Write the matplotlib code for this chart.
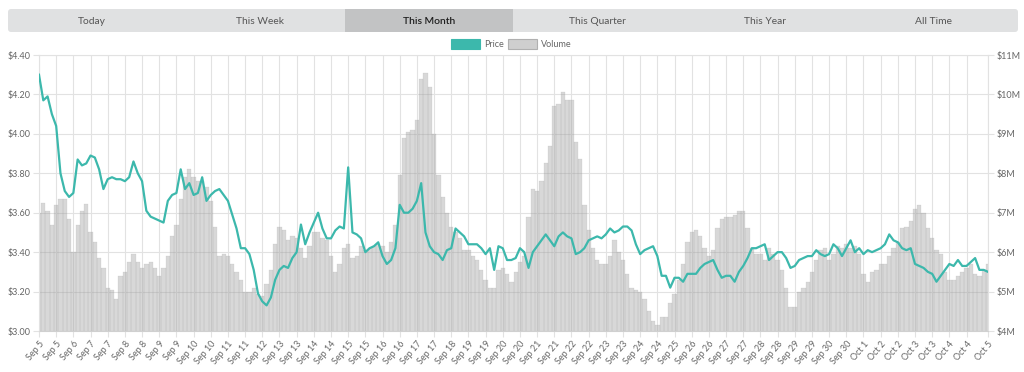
import matplotlib
matplotlib.use("Agg")
import matplotlib.pyplot as plt
from matplotlib.patches import FancyBboxPatch, Rectangle
import numpy as np

plt.rcParams['font.family'] = ['Lato', 'DejaVu Sans']

tabs = ["Today", "This Week", "This Month", "This Quarter", "This Year", "All Time"]
active_tab = "This Month"

day_labels = ["Sep 5", "Sep 5", "Sep 6", "Sep 7", "Sep 7", "Sep 8", "Sep 8", "Sep 9", "Sep 9",
              "Sep 10", "Sep 10", "Sep 11", "Sep 11", "Sep 12", "Sep 13", "Sep 13", "Sep 14",
              "Sep 14", "Sep 15", "Sep 15", "Sep 16", "Sep 16", "Sep 17", "Sep 17", "Sep 18",
              "Sep 19", "Sep 19", "Sep 20", "Sep 20", "Sep 21", "Sep 21", "Sep 22", "Sep 22",
              "Sep 23", "Sep 23", "Sep 24", "Sep 24", "Sep 25", "Sep 26", "Sep 26", "Sep 27",
              "Sep 27", "Sep 28", "Sep 28", "Sep 29", "Sep 29", "Sep 30", "Sep 30", "Oct 1",
              "Oct 2", "Oct 2", "Oct 3", "Oct 3", "Oct 4", "Oct 4", "Oct 5"]

# sampled 4 times per tick interval (~3 h)
price = [
    4.30, 4.17, 4.19, 4.10, 4.04, 3.80, 3.71, 3.68,
    3.70, 3.87, 3.84, 3.85, 3.89, 3.88, 3.82, 3.72,
    3.77, 3.78, 3.77, 3.77, 3.76, 3.78, 3.86, 3.80,
    3.76, 3.61, 3.58, 3.57, 3.56, 3.55, 3.66, 3.69,
    3.70, 3.82, 3.72, 3.75, 3.69, 3.70, 3.78, 3.66,
    3.69, 3.71, 3.72, 3.69, 3.66, 3.59, 3.52, 3.42,
    3.42, 3.39, 3.31, 3.19, 3.15, 3.13, 3.17, 3.26,
    3.31, 3.33, 3.32, 3.37, 3.40, 3.54, 3.44, 3.50,
    3.55, 3.60, 3.52, 3.47, 3.47, 3.51, 3.53, 3.52,
    3.83, 3.50, 3.49, 3.47, 3.40, 3.42, 3.43, 3.45,
    3.38, 3.34, 3.36, 3.42, 3.64, 3.60, 3.60, 3.62,
    3.66, 3.75, 3.50, 3.43, 3.40, 3.39, 3.36, 3.41,
    3.42, 3.52, 3.50, 3.48, 3.44, 3.44, 3.44, 3.42,
    3.39, 3.42, 3.31, 3.43, 3.42, 3.36, 3.36, 3.37,
    3.42, 3.40, 3.32, 3.40, 3.43, 3.46, 3.49, 3.46,
    3.43, 3.48, 3.50, 3.48, 3.47, 3.39, 3.40, 3.42,
    3.46, 3.47, 3.48, 3.47, 3.49, 3.52, 3.50, 3.51,
    3.53, 3.53, 3.51, 3.44, 3.39, 3.41, 3.42, 3.43,
    3.38, 3.28, 3.28, 3.22, 3.27, 3.27, 3.25, 3.29,
    3.29, 3.29, 3.32, 3.34, 3.35, 3.36, 3.31, 3.27,
    3.28, 3.28, 3.25, 3.30, 3.33, 3.37, 3.42, 3.42,
    3.43, 3.44, 3.36, 3.38, 3.40, 3.40, 3.37, 3.32,
    3.33, 3.36, 3.37, 3.38, 3.38, 3.41, 3.39, 3.38,
    3.39, 3.44, 3.42, 3.38, 3.42, 3.46, 3.40, 3.42,
    3.39, 3.41, 3.40, 3.41, 3.42, 3.44, 3.49, 3.46,
    3.45, 3.42, 3.41, 3.42, 3.34, 3.33, 3.32, 3.30,
    3.29, 3.25, 3.28, 3.31, 3.34, 3.33, 3.36, 3.33,
    3.33, 3.35, 3.37, 3.31, 3.31, 3.30,
]

# volume in millions of dollars
volume = [
    7.0, 7.25, 7.05, 6.7, 7.2, 7.35, 7.35, 6.85,
    6.0, 6.7, 7.05, 7.22, 6.5, 6.25, 5.85, 5.6,
    5.1, 5.05, 4.8, 5.4, 5.5, 5.75, 5.95, 5.75,
    5.6, 5.7, 5.75, 5.6, 5.4, 5.6, 5.9, 6.4,
    6.7, 7.35, 7.9, 8.1, 7.9, 7.8, 7.8, 7.65,
    7.3, 6.65, 5.9, 5.95, 5.9, 5.7, 5.5, 5.3,
    5.0, 5.0, 5.1, 4.95, 4.9, 5.2, 5.55, 6.2,
    6.65, 6.55, 6.3, 6.4, 6.35, 6.1, 5.85, 6.15,
    6.5, 6.5, 6.35, 6.3, 5.9, 5.5, 5.7, 6.1,
    6.2, 5.85, 5.9, 6.15, 6.05, 6.1, 6.15, 6.2,
    6.15, 6.0, 6.25, 6.7, 7.95, 8.9, 9.05, 9.1,
    9.35, 10.4, 10.55, 10.2, 9.0, 7.95, 7.4, 7.0,
    6.65, 6.5, 6.35, 6.05, 6.05, 5.9, 5.8, 5.55,
    5.3, 5.1, 5.1, 5.55, 5.6, 5.45, 5.25, 5.5,
    5.75, 5.9, 6.9, 7.6, 7.55, 7.8, 8.25, 8.7,
    9.7, 9.75, 10.05, 9.85, 9.85, 8.8, 8.35, 7.2,
    6.55, 6.1, 5.8, 5.7, 5.7, 5.9, 6.3, 6.0,
    5.8, 5.45, 5.1, 5.05, 5.0, 4.8, 4.5, 4.25,
    4.15, 4.35, 4.35, 4.7, 4.95, 5.3, 5.7, 6.25,
    6.5, 6.55, 6.4, 6.1, 5.9, 6.05, 6.6, 6.85,
    6.9, 6.9, 6.95, 7.05, 7.05, 6.6, 6.1, 5.95,
    5.95, 5.8, 6.1, 5.95, 5.8, 5.55, 5.1, 4.6,
    4.6, 5.0, 5.1, 5.25, 5.5, 5.8, 6.05, 6.1,
    5.8, 5.95, 6.15, 6.1, 6.2, 6.1, 6.15, 5.95,
    5.45, 5.25, 5.5, 5.55, 5.7, 5.7, 5.9, 6.1,
    6.25, 6.6, 6.65, 6.8, 7.1, 7.2, 7.0, 6.6,
    6.35, 6.05, 5.95, 5.5, 5.3, 5.3, 5.4, 5.5,
    5.6, 5.7, 5.45, 5.4, 5.55, 5.7,
]

price_ticks = [3.0, 3.2, 3.4, 3.6, 3.8, 4.0, 4.2, 4.4]
vol_ticks = [4, 5, 6, 7, 8, 9, 10, 11]

teal = '#3cb8ac'
grid_c = '#e2e2e2'
text_c = '#666666'

x = np.arange(len(price)) * 0.25

fig = plt.figure(figsize=(10.24, 3.72), dpi=100)

# tab bar + legend drawn in pixel coords
bg = fig.add_axes([0, 0, 1, 1])
bg.set_xlim(0, 1024)
bg.set_ylim(372, 0)
bg.axis('off')
bg.set_zorder(-1)
bg.add_patch(FancyBboxPatch((8, 9), 1010, 23, boxstyle="round,pad=0,rounding_size=3",
                            fc='#e0e1e2', ec='none'))
tab_w = 1010 / len(tabs)
for i, t in enumerate(tabs):
    if t == active_tab:
        bg.add_patch(Rectangle((8 + i * tab_w, 9), tab_w, 23, fc='#c2c3c4', ec='none'))
        bg.text(8 + (i + 0.5) * tab_w, 21, t, ha='center', va='center', fontsize=7.4,
                color='#1e1e1e', fontweight='semibold')
    else:
        bg.text(8 + (i + 0.5) * tab_w, 21, t, ha='center', va='center', fontsize=7.4,
                color='#555555')

bg.add_patch(Rectangle((451, 39), 29, 10, fc=teal, ec=teal, lw=0.8))
bg.text(484, 44.5, 'Price', ha='left', va='center', fontsize=6.5, color=text_c)
bg.add_patch(Rectangle((508, 39), 29, 10, fc='#cfcfcf', ec='#b0b0b0', lw=0.8))
bg.text(541, 44.5, 'Volume', ha='left', va='center', fontsize=6.5, color=text_c)

# main chart: volume on the base axes (right scale), price on the twin (left scale)
ax = fig.add_axes([39 / 1024, 1 - 331 / 372, 949 / 1024, 276 / 372])
ax.bar(x, volume, width=0.25, color='#999999', alpha=0.38,
       edgecolor='#a8a8a8', linewidth=0.3)
ax.set_ylim(vol_ticks[0], vol_ticks[-1])
ax.set_xlim(0, x[-1])
ax.set_xticks(list(range(len(day_labels) - 1)) + [x[-1]])
ax.set_xticklabels(day_labels, rotation=50, ha='right', rotation_mode='anchor')
ax.set_axisbelow(True)
ax.grid(True, color=grid_c, lw=0.8)
for s in ax.spines.values():
    s.set_color(grid_c)
    s.set_linewidth(0.8)
ax.spines['bottom'].set_color('#d0d0d0')

ax2 = ax.twinx()
ax2.plot(x, price, color=teal, lw=1.6, solid_joinstyle='round')
ax2.set_ylim(price_ticks[0], price_ticks[-1])
ax2.set_yticks(price_ticks)
ax2.set_yticklabels(['$%.2f' % p for p in price_ticks])
ax2.yaxis.tick_left()
ax2.tick_params(axis='y', length=4, width=0.8, color=grid_c, labelcolor=text_c,
                labelsize=6.5, pad=2)
for s in ax2.spines.values():
    s.set_visible(False)

# twinx resets the base axis to the left, so move volume ticks back to the right
ax.yaxis.tick_right()
ax.set_yticks(vol_ticks)
ax.set_yticklabels(['$%dM' % v for v in vol_ticks])
ax.tick_params(axis='both', length=4, width=0.8, color=grid_c, labelcolor=text_c,
               labelsize=6.5, pad=2)

fig.savefig('out.png', dpi=100)
